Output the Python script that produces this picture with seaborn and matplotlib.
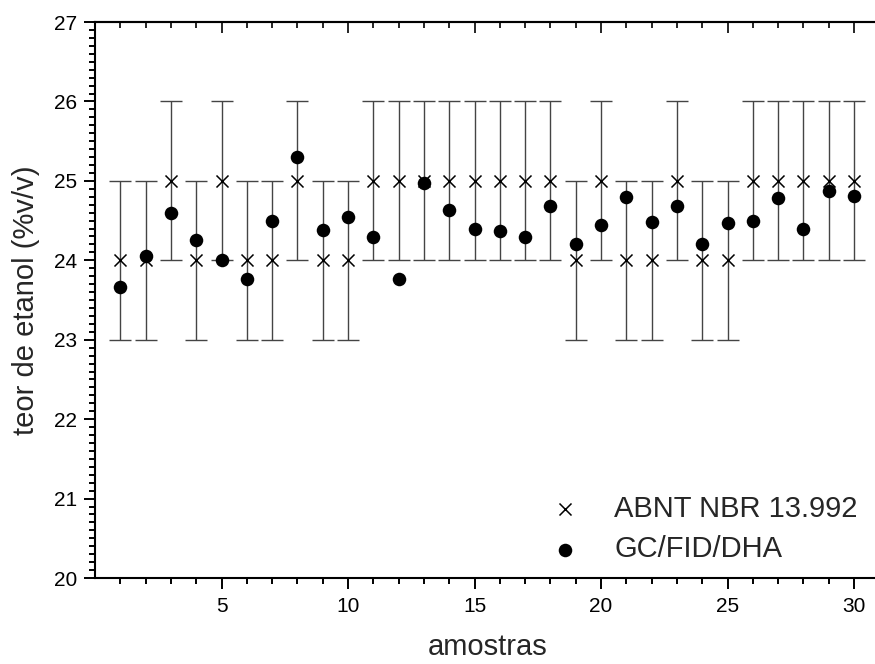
import numpy as np
import pandas as pd
import matplotlib
matplotlib.use('Agg')
import matplotlib.pyplot as plt
import seaborn as sns
from matplotlib.ticker import MultipleLocator, FixedLocator

# dados: teor de etanol por amostra
amostras = list(range(1, 31))
abnt = [24, 24, 25, 24, 25, 24, 24, 25, 24, 24,
        25, 25, 25, 25, 25, 25, 25, 25, 24, 25,
        24, 24, 25, 24, 24, 25, 25, 25, 25, 25]
abnt_erro = [1] * 30
gc_fid = [23.66, 24.06, 24.59, 24.26, 24.01, 23.77, 24.50, 25.30, 24.38, 24.55,
          24.29, 23.76, 24.97, 24.63, 24.39, 24.37, 24.29, 24.69, 24.21, 24.44,
          24.80, 24.48, 24.68, 24.21, 24.47, 24.49, 24.78, 24.40, 24.87, 24.81]
x_major = [5, 10, 15, 20, 25, 30]

df = pd.DataFrame({'amostra': amostras, 'abnt': abnt, 'erro': abnt_erro, 'gc': gc_fid})

sns.set_style('ticks')
plt.rcParams['font.family'] = ['Liberation Sans', 'DejaVu Sans']

fig = plt.figure(figsize=(8.75, 6.64), dpi=100)
ax = fig.add_axes([0.1086, 0.1295, 0.8964, 0.8373])

# barras de erro da norma ABNT
ax.errorbar(df['amostra'], df['abnt'], yerr=df['erro'], fmt='none',
            ecolor='#444444', elinewidth=1.0, capsize=8, capthick=1.0, zorder=1)

sns.scatterplot(data=df, x='amostra', y='abnt', marker='x', s=75, color='black',
                linewidth=1.1, label='ABNT NBR 13.992', ax=ax, zorder=3)
sns.scatterplot(data=df, x='amostra', y='gc', marker='o', s=95, color='black',
                edgecolor='black', linewidth=0, label='GC/FID/DHA', ax=ax, zorder=4)

ax.set_xlim(0, 31)
ax.set_ylim(20, 27)
ax.xaxis.set_major_locator(FixedLocator(x_major))
ax.xaxis.set_minor_locator(FixedLocator(amostras))
ax.yaxis.set_major_locator(MultipleLocator(1))
ax.yaxis.set_minor_locator(MultipleLocator(0.1))

ax.tick_params(axis='both', which='major', direction='out', length=8, width=1.4,
               labelsize=15, color='black', labelcolor='black')
ax.tick_params(axis='both', which='minor', direction='out', length=4, width=1.4, color='black')
ax.tick_params(axis='x', which='major', pad=6)
ax.tick_params(axis='y', which='major', pad=5)

# ticks para dentro no topo
sec = ax.secondary_xaxis('top')
sec.xaxis.set_major_locator(FixedLocator(x_major))
sec.xaxis.set_minor_locator(FixedLocator(amostras))
sec.tick_params(which='major', direction='in', length=8, width=1.4, labeltop=False)
sec.tick_params(which='minor', direction='in', length=4, width=1.4)
sec.spines['top'].set_linewidth(1.5)

for s in ['left', 'bottom', 'top']:
    ax.spines[s].set_visible(True)
    ax.spines[s].set_linewidth(1.5)
    ax.spines[s].set_color('black')
ax.spines['right'].set_visible(False)

ax.set_xlabel('amostras', fontsize=21, labelpad=12)
ax.set_ylabel('teor de etanol (%v/v)', fontsize=21, labelpad=10)

leg = ax.legend(loc='lower right', bbox_to_anchor=(0.995, -0.005), frameon=False,
                fontsize=21, handletextpad=0.7, labelspacing=0.42, borderaxespad=0.2)

fig.savefig('out.png', dpi=100)
